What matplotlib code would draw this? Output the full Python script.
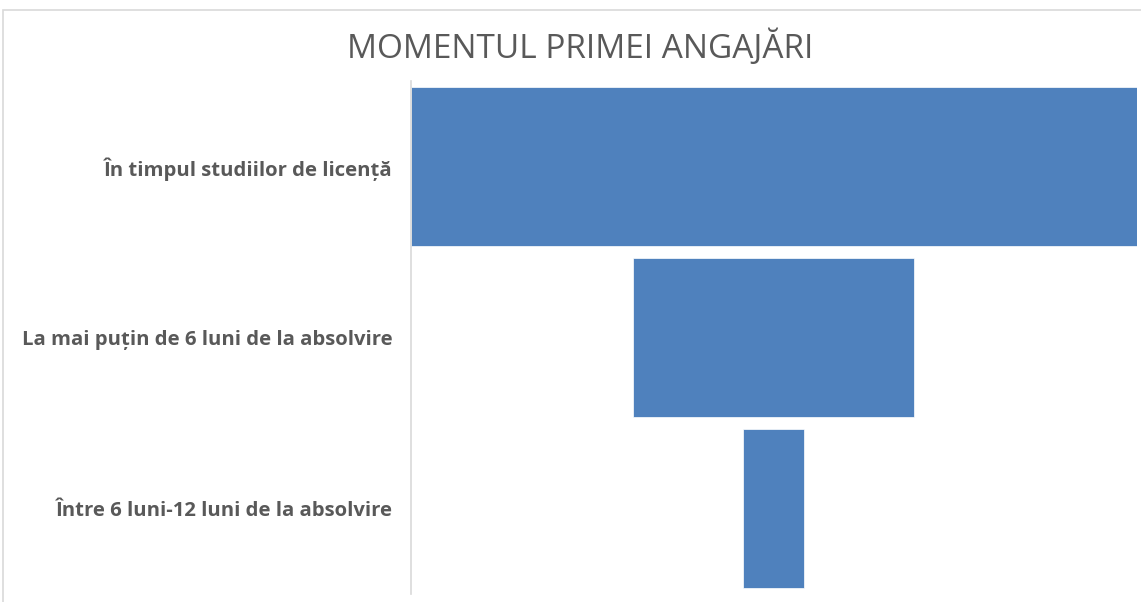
import matplotlib
matplotlib.use("Agg")
import matplotlib.pyplot as plt
from matplotlib.patches import Rectangle

# data
categories = ["În timpul studiilor de licență",
              "La mai puțin de 6 luni de la absolvire",
              "Între 6 luni-12 luni de la absolvire"]
values = [119, 46, 10]

bar_color = "#4F81BD"
text_color = "#595959"

fig = plt.figure(figsize=(11.41, 6.02), dpi=100)
fig.patch.set_facecolor("white")

# light chart-area border like in the spreadsheet export
fig.add_artist(Rectangle((3 / 1141, -0.05), 1.2, 1 - 10 / 602 + 0.05,
                         transform=fig.transFigure, fill=False,
                         edgecolor="#d9d9d9", linewidth=1.2))

ax = fig.add_axes([410.5 / 1141, 1 - 594 / 602, 726 / 1141, 513 / 602])

vmax = max(values)
ypos = list(range(len(categories)))
lefts = [(vmax - v) / 2 for v in values]
ax.barh(ypos, values, left=lefts, height=0.93, color=bar_color,
        edgecolor="white", linewidth=0.5)

ax.set_xlim(0, vmax)
ax.set_ylim(len(categories) - 0.5, -0.5)
ax.set_yticks(ypos)
ax.set_yticklabels(categories, fontsize=14.6, fontweight="bold",
                   color=text_color, family=["Open Sans", "DejaVu Sans"])
ax.tick_params(axis="y", length=0, pad=13)
ax.set_xticks([])

for s in ["top", "right", "bottom"]:
    ax.spines[s].set_visible(False)
ax.spines["left"].set_color("#d9d9d9")
ax.spines["left"].set_linewidth(1.2)

fig.text(580 / 1141, 1 - 48 / 602, "MOMENTUL PRIMEI ANGAJĂRI",
         ha="center", va="center", fontsize=24, color=text_color,
         family=["Open Sans", "DejaVu Sans"])

fig.savefig("out.png", dpi=100)
